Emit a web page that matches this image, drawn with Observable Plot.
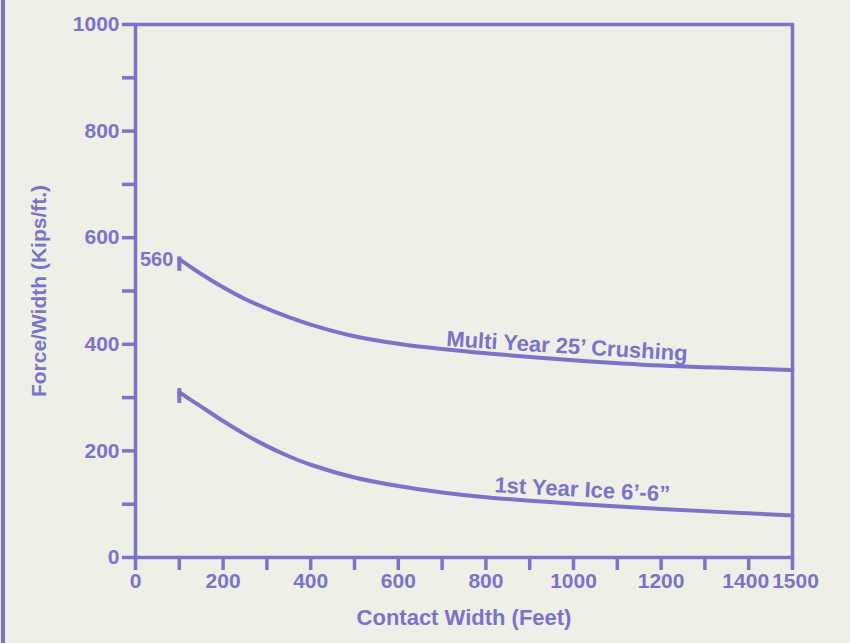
<!DOCTYPE html>
<html>
<head>
<meta charset="utf-8">
<script src="https://cdn.jsdelivr.net/npm/d3@7"></script>
<script src="https://cdn.jsdelivr.net/npm/@observablehq/plot@0.6"></script>
<style>
  html, body { margin: 0; padding: 0; background: #eef0e7; }
  #wrap { position: relative; width: 850px; height: 643px; overflow: hidden; }
  #edge { position: absolute; left: 1px; top: 0; width: 4px; height: 643px; background: #7b73c9; }
</style>
</head>
<body>
<div id="wrap"><div id="edge"></div><div id="chart"></div></div>
<script>
// Data
const multiX = [100, 150, 200, 250, 300, 350, 400, 500, 600, 700, 800, 1000, 1200, 1500];
const multiY = [560, 532, 507, 485, 467, 451, 437, 415, 401, 391, 383, 370, 360, 352];
const firstX = [100, 150, 200, 250, 300, 350, 400, 500, 600, 700, 800, 1000, 1200, 1500];
const firstY = [310, 283, 256, 231, 209, 190, 174, 150, 134, 122, 113, 101, 91, 79];
const markerX = [100, 100];
const markerLo = [537, 289];
const markerHi = [564, 317];
const xTicks = d3.range(0, 1501, 100);
const yTicks = d3.range(0, 1001, 100);
const xLabels = [0, 200, 400, 600, 800, 1000, 1200];
const xLabelsEnd = [1400, 1500];
const yLabels = [0, 200, 400, 600, 800, 1000];

const ink = "#7b73c9";
const multi = multiX.map((x, i) => ({x, y: multiY[i]}));
const first = firstX.map((x, i) => ({x, y: firstY[i]}));
const markers = markerX.map((x, i) => ({x, y1: markerLo[i], y2: markerHi[i]}));
const axisText = {fill: ink, fontSize: 21, fontWeight: "bold", tickFormat: d => String(d)};

const chart = Plot.plot({
  width: 850,
  height: 643,
  marginLeft: 135,
  marginRight: 58,
  marginTop: 24,
  marginBottom: 86,
  style: {background: "transparent", color: ink, fontFamily: "'Liberation Sans', Arial, sans-serif", fontSize: "22px", fontWeight: "bold"},
  x: {domain: [0, 1500]},
  y: {domain: [0, 1000]},
  marks: [
    Plot.frame({stroke: ink, strokeWidth: 3.5}),
    // x ticks (unlabelled) and the axis title
    Plot.axisX({ticks: xTicks, tickFormat: () => "", tickSize: 13, stroke: ink, strokeWidth: 3.5,
      label: "Contact Width (Feet)", labelAnchor: "center", labelOffset: 67, labelArrow: false, fontSize: 22}),
    // x tick labels
    Plot.axisX(xLabels, {tickSize: 0, tickPadding: 16, ...axisText, label: null}),
    Plot.axisX([xLabelsEnd[0]], {tickSize: 0, tickPadding: 16, dx: -3, ...axisText, label: null}),
    Plot.axisX([xLabelsEnd[1]], {tickSize: 0, tickPadding: 16, dx: 3, ...axisText, label: null}),
    Plot.axisY({ticks: yTicks, tickSize: 13, tickPadding: 3, stroke: ink, strokeWidth: 3.5, ...axisText,
      tickFormat: d => yLabels.includes(d) ? String(d) : "",
      label: "Force/Width (Kips/ft.)", labelAnchor: "center", labelOffset: 104, labelArrow: false}),
    Plot.line(multi, {x: "x", y: "y", stroke: ink, strokeWidth: 4, curve: "catmull-rom"}),
    Plot.line(first, {x: "x", y: "y", stroke: ink, strokeWidth: 4, curve: "catmull-rom"}),
    Plot.ruleX(markers, {x: "x", y1: "y1", y2: "y2", stroke: ink, strokeWidth: 4}),
    Plot.text(["560"], {x: 100, y: 560, dx: -6, dy: 1, textAnchor: "end", fill: ink, fontSize: 20, fontWeight: "bold"}),
    Plot.text(["Multi Year 25\u2019 Crushing"], {x: 985, y: 396, rotate: 3.5, fill: ink, fontSize: 22, fontWeight: "bold"}),
    Plot.text(["1st Year Ice 6\u2019-6\u201d"], {x: 1020, y: 127, rotate: 3, fill: ink, fontSize: 22, fontWeight: "bold"})
  ]
});
document.getElementById("chart").appendChild(chart);
</script>
</body>
</html>
